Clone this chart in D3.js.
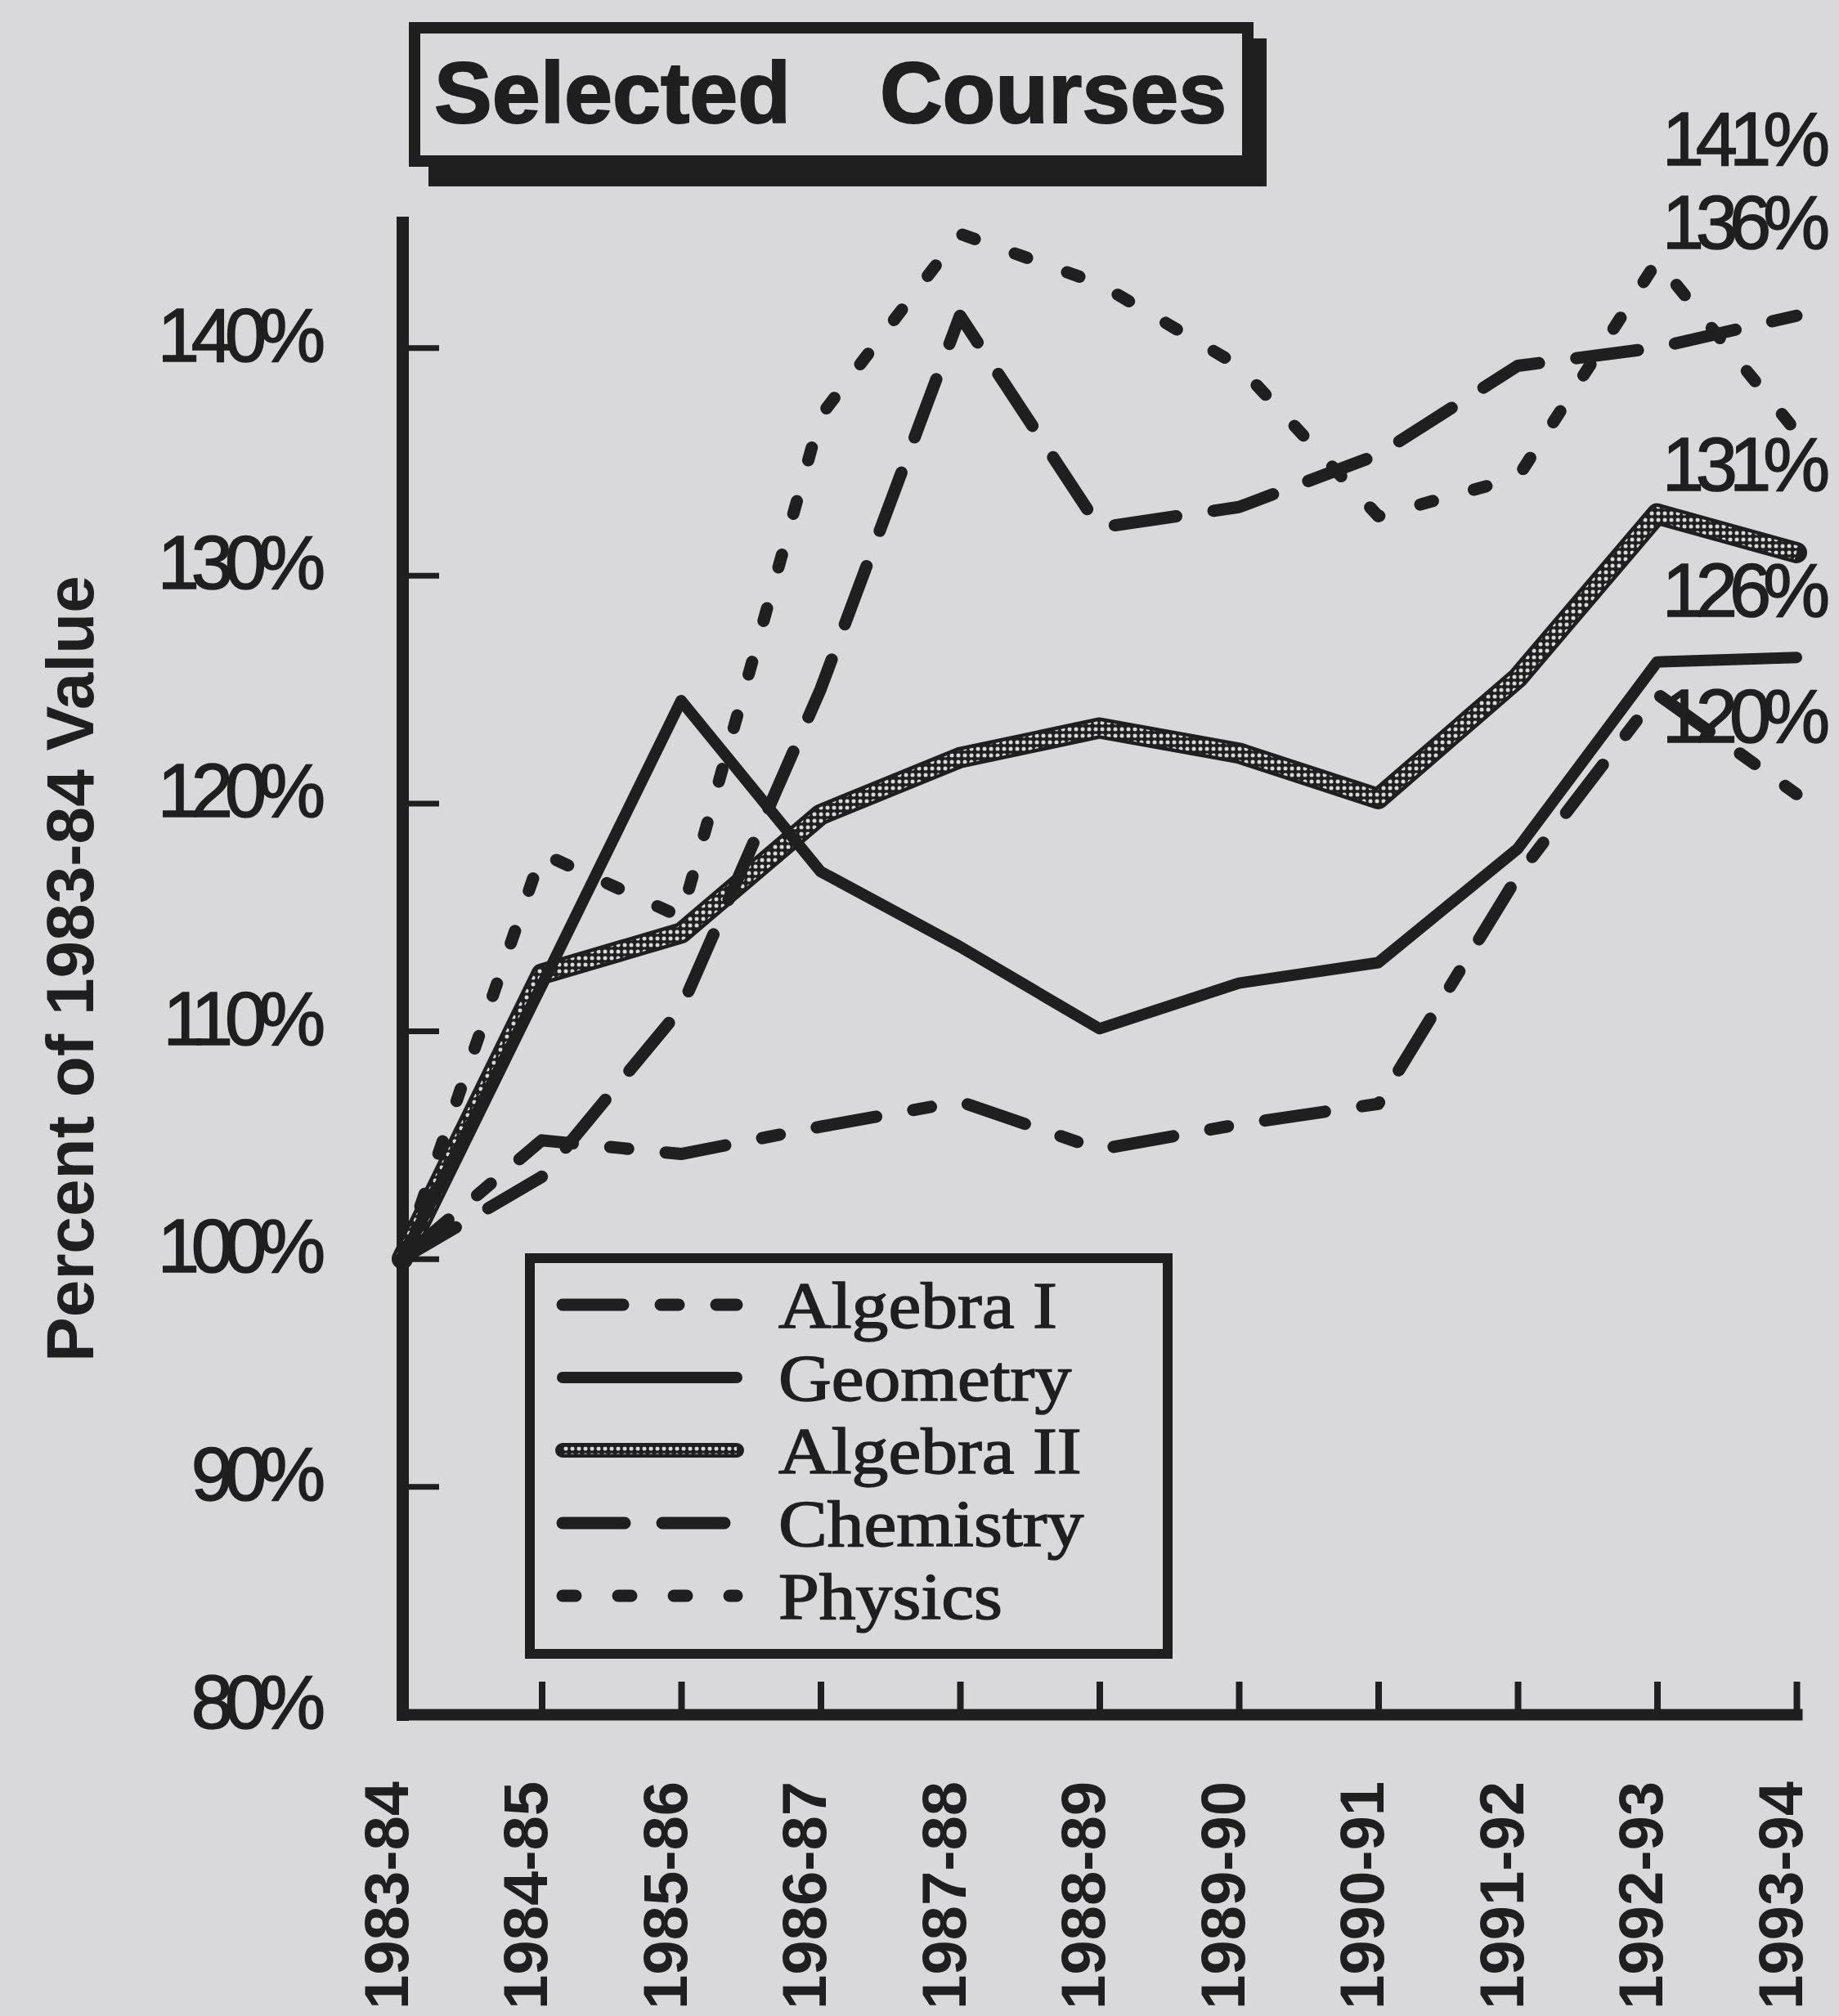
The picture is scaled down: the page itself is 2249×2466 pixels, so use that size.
<!DOCTYPE html>
<html lang="en">
<head>
<meta charset="utf-8">
<script src="https://d3js.org/d3.v7.min.js"></script>
<style>
body { margin: 0; background: #d9d9db; }
#chart { width: 2249px; height: 2466px; overflow: hidden; }
.num { font-family: "Liberation Sans", Arial, sans-serif; font-size: 92px; letter-spacing: -10px; fill: #1f1f1f; stroke: #1f1f1f; stroke-width: 1.5px; }
.bold { font-family: "Liberation Sans", Arial, sans-serif; font-weight: bold; fill: #1f1f1f; }
.legend-text { font-family: "Liberation Serif", "Times New Roman", serif; font-size: 80px; fill: #1f1f1f; stroke: #1f1f1f; stroke-width: 1.5px; }
</style>
</head>
<body>
<div id="chart"></div>
<script>
// data (percent of the 1983-84 value)
var years = ["1983-84", "1984-85", "1985-86", "1986-87", "1987-88", "1988-89",
             "1989-90", "1990-91", "1991-92", "1992-93", "1993-94"];
var courses = ["Algebra I", "Geometry", "Algebra II", "Chemistry", "Physics"];
var algebra1  = [100, 105.2, 104.6, 105.8, 106.9, 104.8, 105.9, 106.8, 116.8, 124.8, 120.4];
var geometry  = [100, 112, 124.5, 117, 113.7, 110.1, 112.1, 113, 118, 126.2, 126.4];
var algebra2  = [100, 112.5, 114.3, 119.5, 122, 123.3, 122.2, 120.2, 125.5, 132.7, 131];
var chemistry = [100, 103.6, 111, 125, 141.4, 132.1, 133, 135.3, 139.2, 140, 141.4];
var physics   = [100, 117.8, 115, 137, 145, 142.8, 139.2, 132.6, 134.3, 143.8, 136.3];
var yTicks = [80, 90, 100, 110, 120, 130, 140];
var yTickLabels = ["80%", "90%", "100%", "110%", "120%", "130%", "140%"];

var width = 2249, height = 2466;
var ink = "#1f1f1f", paper = "#d9d9db";

// line looks, in the order of courses
var dashes = ["74 46 22 46", null, null, "76 46", "16 52"];
var textured = [false, false, true, false, false];
var labelDy = [-63, -50, -76, -184, -224];   // where the end labels sit above the line end

var series = courses.map(function(name, i) {
    return { name: name, values: [algebra1, geometry, algebra2, chemistry, physics][i],
             dash: dashes[i], textured: textured[i], dy: labelDy[i] };
});

var svg = d3.select("#chart").append("svg")
    .attr("width", width)
    .attr("height", height);

// chain texture for Algebra II
var pat = svg.append("defs").append("pattern")
    .attr("id", "chain")
    .attr("patternUnits", "userSpaceOnUse")
    .attr("width", 8).attr("height", 8);
pat.append("rect").attr("width", 8).attr("height", 8).attr("fill", ink);
pat.append("circle").attr("cx", 4).attr("cy", 4).attr("r", 2.5).attr("fill", paper);

var x = d3.scalePoint().domain(years).range([492, 2197]);
var y = d3.scaleLinear().domain([80, 145.5]).range([2097, 272]);

// y axis
var yAxis = svg.append("g")
    .attr("transform", "translate(492,0)")
    .call(d3.axisLeft(y).tickValues(yTicks)
        .tickFormat(function(d, i) { return yTickLabels[i]; })
        .tickSize(-45).tickSizeOuter(0).tickPadding(104));
yAxis.select(".domain").attr("stroke", ink).attr("stroke-width", 15).attr("stroke-linecap", "square");
yAxis.selectAll(".tick line").attr("stroke", ink).attr("stroke-width", 7);
yAxis.selectAll(".tick text").attr("class", "num").attr("dy", 16).attr("fill", null);

// x axis
var xAxis = svg.append("g")
    .attr("transform", "translate(0," + y(80) + ")")
    .call(d3.axisBottom(x).tickSize(-40).tickSizeOuter(0));
xAxis.select(".domain").attr("stroke", ink).attr("stroke-width", 14).attr("stroke-linecap", "square");
xAxis.selectAll(".tick line").attr("stroke", ink).attr("stroke-width", 8)
    .filter(function(d, i) { return i === 0; }).remove();
xAxis.selectAll(".tick text")
    .attr("class", "bold")
    .attr("fill", null)
    .style("font-size", "76px")
    .attr("x", 0).attr("y", 0).attr("dy", 0)
    .attr("text-anchor", "end")
    .attr("transform", "translate(6,82) rotate(-90)");

// y axis title
svg.append("text")
    .attr("class", "bold")
    .attr("transform", "translate(114,1185) rotate(-90)")
    .attr("text-anchor", "middle")
    .style("font-size", "82px")
    .text("Percent of 1983-84 Value");

// lines
var line = d3.line()
    .x(function(d, i) { return x(years[i]); })
    .y(function(d) { return y(d); });

function drawStroke(g, pathD, s, band) {
    if (s.textured) {
        g.append("path").attr("d", pathD).attr("fill", "none")
            .attr("stroke", ink).attr("stroke-width", band)
            .attr("stroke-linejoin", "round").attr("stroke-linecap", "round");
        g.append("path").attr("d", pathD).attr("fill", "none")
            .attr("stroke", "url(#chain)").attr("stroke-width", band - 9)
            .attr("stroke-linejoin", "round");
    } else {
        g.append("path").attr("d", pathD).attr("fill", "none")
            .attr("stroke", ink).attr("stroke-width", s.dash ? 15 : 14)
            .attr("stroke-linejoin", "round").attr("stroke-linecap", "round")
            .attr("stroke-dasharray", s.dash);
    }
}

var drawOrder = [2, 3, 4, 0, 1];
drawOrder.forEach(function(k) {
    var s = series[k];
    drawStroke(svg.append("g").attr("class", "course"), line(s.values), s, 26);
});

// value labels at the right end
svg.selectAll(".end-label")
    .data(series)
    .enter().append("text")
    .attr("class", "num end-label")
    .attr("x", 2228)
    .attr("y", function(d) { return y(d.values[d.values.length - 1]) + d.dy; })
    .attr("text-anchor", "end")
    .text(function(d) { return Math.round(d.values[d.values.length - 1]) + "%"; });

// title box with shadow
var title = svg.append("g");
title.append("rect")
    .attr("x", 524).attr("y", 47).attr("width", 1025).attr("height", 181)
    .attr("fill", ink);
title.append("rect")
    .attr("x", 507).attr("y", 34).attr("width", 1019).attr("height", 163)
    .attr("fill", paper).attr("stroke", ink).attr("stroke-width", 14);
title.append("text")
    .attr("class", "bold")
    .attr("y", 150)
    .style("font-size", "106px")
    .style("stroke", ink).style("stroke-width", "2px")
    .selectAll("tspan")
    .data(["Selected", "Courses"])
    .enter().append("tspan")
    .attr("x", function(d, i) { return i === 0 ? 531 : 1076; })
    .text(function(d) { return d; });

// legend
var legend = svg.append("g");
legend.append("rect")
    .attr("x", 648).attr("y", 1539).attr("width", 780).attr("height", 484)
    .attr("fill", paper).attr("stroke", ink).attr("stroke-width", 12);

var legendY = d3.scalePoint().domain(courses).range([1624, 1980]);
var sampleLine = d3.line();
series.forEach(function(s) {
    var base = legendY(s.name);
    var g = legend.append("g");
    drawStroke(g, sampleLine([[688, base - 28], [901, base - 28]]), s, 18);
    g.append("text")
        .attr("class", "legend-text")
        .attr("transform", "translate(952," + base + ") scale(1.12,1)")
        .text(s.name);
});
</script>
</body>
</html>
